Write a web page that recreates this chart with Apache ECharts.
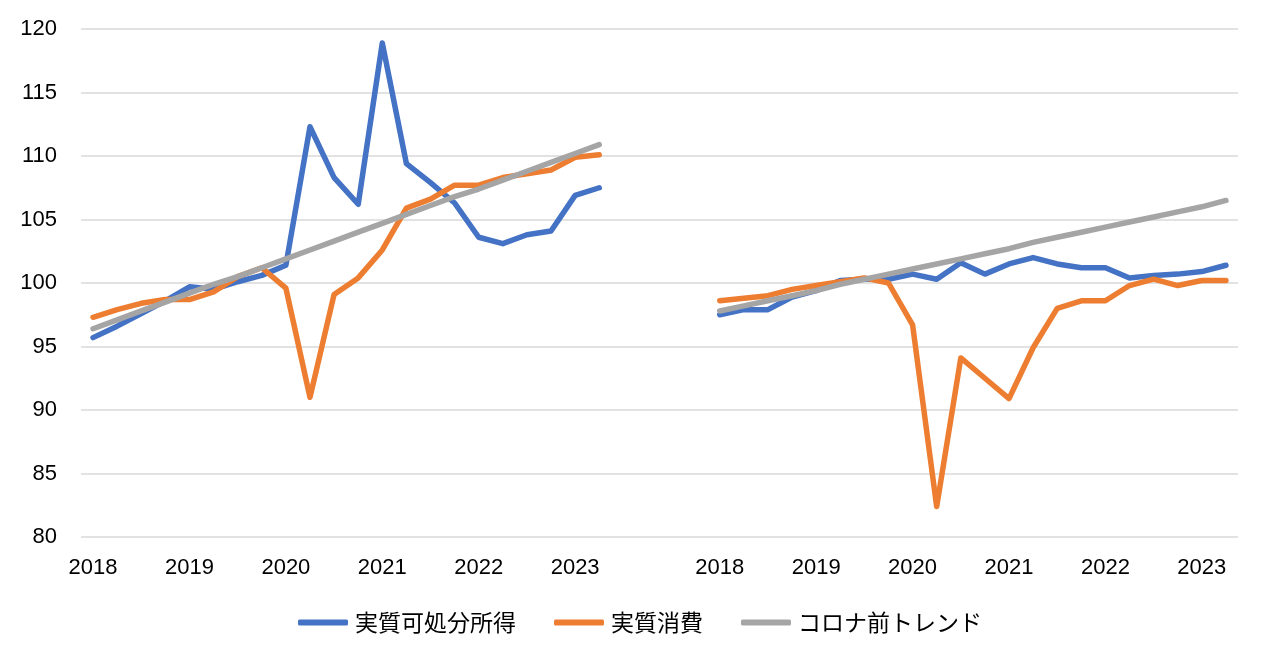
<!DOCTYPE html>
<html>
<head>
<meta charset="utf-8">
<script src="https://cdn.jsdelivr.net/npm/echarts@6/dist/echarts.min.js"></script>
<style>
html,body{margin:0;padding:0;background:#fff;}
#chart{width:1280px;height:663px;}
</style>
</head>
<body>
<div id="chart"></div>
<script>
// Quarterly periods for each panel (2018Q1 - 2023Q2)
const quarters = ['2018Q1','2018Q2','2018Q3','2018Q4','2019Q1','2019Q2','2019Q3','2019Q4',
  '2020Q1','2020Q2','2020Q3','2020Q4','2021Q1','2021Q2','2021Q3','2021Q4',
  '2022Q1','2022Q2','2022Q3','2022Q4','2023Q1','2023Q2'];
const gapCount = 4;
const yTicks = {min: 80, max: 120, interval: 5};

// Left panel
const leftIncome = [95.7, 96.6, 97.6, 98.6, 99.7, 99.5, 100.1, 100.6, 101.4, 112.3, 108.3, 106.2,
  118.9, 109.4, 107.9, 106.3, 103.6, 103.1, 103.8, 104.1, 106.9, 107.5];
const leftConsumption = [97.3, 97.9, 98.4, 98.7, 98.7, 99.3, 100.5, 101.2, 99.6, 91.0, 99.1, 100.4,
  102.6, 105.9, 106.6, 107.7, 107.7, 108.3, 108.6, 108.9, 109.9, 110.1];
const leftTrend = [96.4, 97.1, 97.8, 98.5, 99.2, 99.9, 100.5, 101.2, 101.9, 102.6, 103.3, 104.0,
  104.7, 105.4, 106.1, 106.8, 107.4, 108.1, 108.8, 109.5, 110.2, 110.9];

// Right panel
const rightIncome = [97.5, 97.9, 97.9, 98.9, 99.4, 100.2, 100.3, 100.3, 100.7, 100.3, 101.6, 100.7,
  101.5, 102.0, 101.5, 101.2, 101.2, 100.4, 100.6, 100.7, 100.9, 101.4];
const rightConsumption = [98.6, 98.8, 99.0, 99.5, 99.8, 100.1, 100.4, 100.0, 96.7, 82.4, 94.1, 92.5,
  90.9, 94.9, 98.0, 98.6, 98.6, 99.8, 100.3, 99.8, 100.2, 100.2];
const rightTrend = [97.8, 98.2, 98.6, 99.0, 99.4, 99.9, 100.3, 100.7, 101.1, 101.5, 101.9, 102.3,
  102.7, 103.2, 103.6, 104.0, 104.4, 104.8, 105.2, 105.6, 106.0, 106.5];

const seriesNames = ['実質可処分所得', '実質消費', 'コロナ前トレンド'];
const colors = ['#4472C4', '#ED7D31', '#A5A5A5'];

// Build combined category axis: left panel, blank gap, right panel
const gapCats = Array.from({length: gapCount}, (_, i) => 'gap' + i);
const categories = quarters.map(q => 'L' + q).concat(gapCats, quarters.map(q => 'R' + q));
const gapNulls = Array(gapCount).fill(null);
const join = (a, b) => a.concat(gapNulls, b);
const seriesData = [join(leftIncome, rightIncome), join(leftConsumption, rightConsumption), join(leftTrend, rightTrend)];

const chart = echarts.init(document.getElementById('chart'));
const font = '"Liberation Sans", Arial, sans-serif';
chart.setOption({
  animation: false,
  backgroundColor: '#fff',
  grid: {left: 81, right: 42, top: 29, bottom: 126, containLabel: false},
  xAxis: {
    type: 'category',
    data: categories,
    boundaryGap: true,
    axisLine: {show: false},
    axisTick: {show: false},
    axisLabel: {
      interval: 0,
      margin: 20,
      color: '#000',
      fontSize: 22,
      fontFamily: font,
      formatter: v => (v.endsWith('Q1') && v[0] !== 'g') ? v.slice(1, 5) : ''
    },
    splitLine: {show: false}
  },
  yAxis: {
    type: 'value',
    min: yTicks.min, max: yTicks.max, interval: yTicks.interval,
    axisLine: {show: false},
    axisTick: {show: false},
    axisLabel: {margin: 24, color: '#000', fontSize: 22, fontFamily: font},
    splitLine: {lineStyle: {color: '#D9D9D9', width: 1.5}}
  },
  legend: {
    data: seriesNames.map((n, i) => ({name: n, icon: 'roundRect', itemStyle: {color: colors[i]}})),
    top: 606,
    left: 'center',
    itemWidth: 50,
    itemHeight: 6,
    itemGap: 38,
    textStyle: {fontSize: 23, color: '#000', fontFamily: '"Noto Sans CJK JP", sans-serif', padding: [0, 0, 0, 2]}
  },
  series: seriesNames.map((name, i) => ({
    name: name,
    type: 'line',
    data: seriesData[i],
    symbol: 'none',
    connectNulls: false,
    z: i === 2 ? 3 : (i === 1 ? 2 : 1),
    lineStyle: {color: colors[i], width: 5.5, cap: 'round', join: 'round'},
    itemStyle: {color: colors[i]}
  }))
});
</script>
</body>
</html>
